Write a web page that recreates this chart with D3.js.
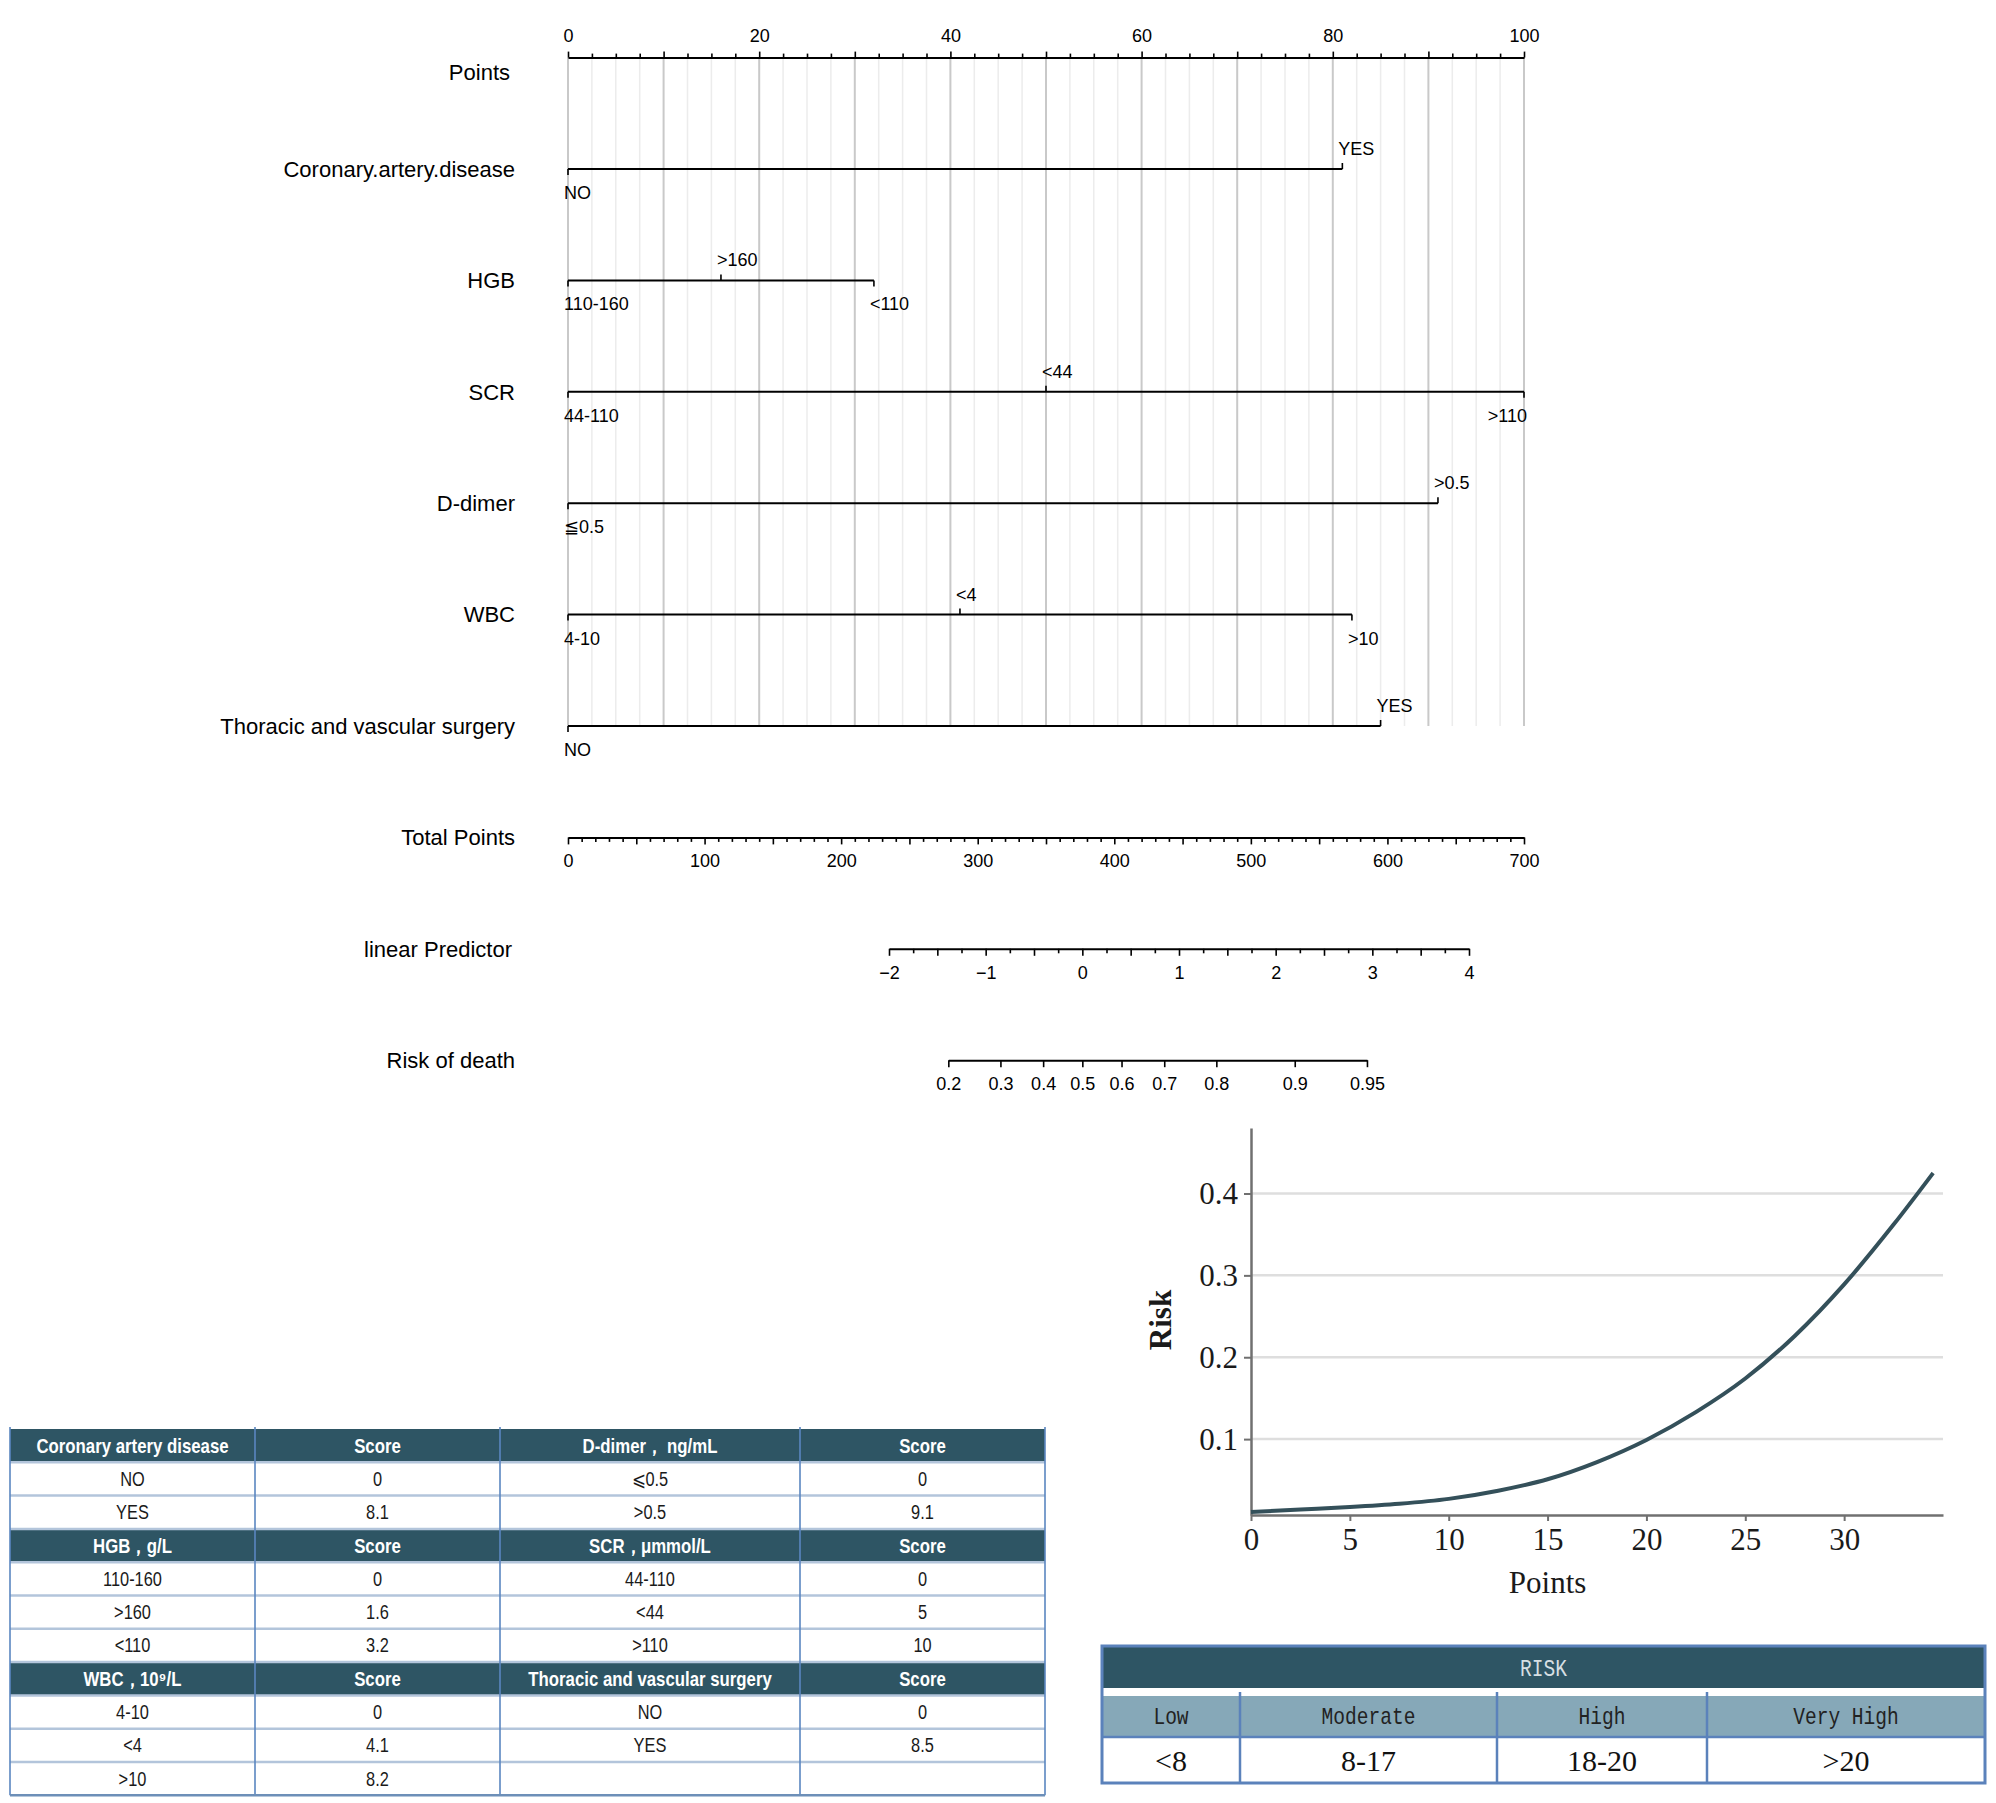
<!DOCTYPE html>
<html>
<head>
<meta charset="utf-8">
<script src="https://cdn.jsdelivr.net/npm/d3@7"></script>
<style>
body{margin:0;background:#fff;}
svg{display:block;background:#fff;}
.nomo text{font-family:"Liberation Sans",Arial,sans-serif;fill:#000;}
.tbl text{font-family:"Liberation Sans Narrow","Arial Narrow","Liberation Sans",sans-serif;}
.curve text{font-family:"Liberation Serif","Times New Roman",serif;fill:#1a1a1a;}
</style>
</head>
<body>
<svg id="fig"></svg>
<script>
// nomogram
var pointTicks=[0,20,40,60,80,100];
var varNames=["Coronary.artery.disease","HGB","SCR","D-dimer","WBC","Thoracic and vascular surgery"];
var levelNames=[["NO","YES"],["110-160",">160","<110"],["44-110","<44",">110"],["≦0.5",">0.5"],["4-10","<4",">10"],["NO","YES"]];
var levelPoints=[[0,81],[0,16,32],[0,50,100],[0,91],[0,41,82],[0,85]];
var totalTicks=[0,100,200,300,400,500,600,700];
var lpTicks=[-2,-1,0,1,2,3,4];
var riskTicks=[0.2,0.3,0.4,0.5,0.6,0.7,0.8,0.9,0.95];

// score table
var tableHeaders=[["Coronary artery disease","Score","D-dimer，  ng/mL","Score"],
                  ["HGB，g/L","Score","SCR，μmmol/L","Score"],
                  ["WBC，10⁹/L","Score","Thoracic and vascular surgery","Score"]];
var tableBody=[[["NO","0","⩽0.5","0"],["YES","8.1",">0.5","9.1"]],
               [["110-160","0","44-110","0"],[">160","1.6","<44","5"],["<110","3.2",">110","10"]],
               [["4-10","0","NO","0"],["<4","4.1","YES","8.5"],[">10","8.2","",""]]];

// risk curve
var curvePoints=[0,2.5,5,7.5,10,12.5,15,17.5,20,22.5,25,27.5,30,32.5,34.5];
var curveRisk=[0.011,0.014,0.017,0.021,0.027,0.037,0.051,0.072,0.099,0.133,0.174,0.226,0.289,0.362,0.425];
var curveXTicks=[0,5,10,15,20,25,30];
var curveYTicks=[0.1,0.2,0.3,0.4];

// risk table
var riskTitle="RISK";
var riskLevels=["Low","Moderate","High","Very High"];
var riskRanges=["<8","8-17","18-20",">20"];

var svg=d3.select("#fig").attr("width",1996).attr("height",1803);

var styleAxis=function(g,size)
{
    g.attr("font-size",size);
    g.selectAll(".domain").attr("stroke","#000").attr("stroke-width",2);
    g.selectAll(".tick line").attr("stroke","#000").attr("stroke-width",1.6);
}

var drawNomogram=function()
{
    var nomo=svg.append("g").attr("class","nomo");
    var xPts=d3.scaleLinear().domain([0,100]).range([568,1524]);
    var xTot=d3.scaleLinear().domain([0,700]).range([568,1524]);
    var xLp=d3.scaleLinear().domain([-2,4]).range([889,1469]);
    var rowY=d3.scaleLinear().domain([0,9]).range([57.6,1060.2]);

    //grid
    nomo.append("g").selectAll("line")
    .data(d3.range(0,100.01,2.5))
    .join("line")
    .attr("x1",xPts).attr("x2",xPts)
    .attr("y1",rowY(0)).attr("y2",rowY(6))
    .attr("stroke",function(d){return d%10===0?"#c9c9c9":"#ececec";})
    .attr("stroke-width",function(d){return d%10===0?2:1.5;});

    //points axis
    var pa=nomo.append("g").attr("transform","translate(0,"+rowY(0)+")");
    pa.call(d3.axisTop(xPts).tickValues(d3.range(0,101,10)).tickSize(6).tickSizeOuter(0).tickPadding(10)
        .tickFormat(function(d){return pointTicks.indexOf(d)>=0?d:"";}));
    pa.append("g").call(d3.axisTop(xPts).tickValues(d3.range(0,101,2.5).filter(function(d){return d%10!==0;}))
        .tickSize(4).tickSizeOuter(0).tickFormat(""))
      .call(function(g){g.select(".domain").remove();});
    styleAxis(pa,18);

    nomo.append("text").text("Points")
    .attr("x",510).attr("y",rowY(0)+15).attr("dy","0.35em")
    .attr("text-anchor","end").attr("font-size",22);

    //variables
    varNames.forEach(function(name,i)
    {
        var y=rowY(i+1);
        var g=nomo.append("g");
        g.append("text").text(name)
        .attr("x",515).attr("y",y).attr("dy","0.35em")
        .attr("text-anchor","end").attr("font-size",22);

        var pts=levelPoints[i];
        g.append("line")
        .attr("x1",xPts(d3.min(pts))).attr("x2",xPts(d3.max(pts)))
        .attr("y1",y).attr("y2",y)
        .attr("stroke","#000").attr("stroke-width",2);

        var order=d3.range(pts.length).sort(function(a,b){return pts[a]-pts[b];});
        order.forEach(function(k,j)
        {
            var x=xPts(pts[k]);
            var above=j%2===1;
            g.append("line")
            .attr("x1",x).attr("x2",x)
            .attr("y1",y).attr("y2",above?y-6:y+6)
            .attr("stroke","#000").attr("stroke-width",1.6);
            var t=g.append("text").text(levelNames[i][k])
            .attr("x",x-4).attr("y",above?y-14:y+30)
            .attr("font-size",18).attr("text-anchor","start");
            if(x-4+t.node().getComputedTextLength()>xPts(100)+4)
            {
                t.attr("text-anchor","end").attr("x",x+3);
            }
        });
    });

    //total points
    var ta=nomo.append("g").attr("transform","translate(0,"+rowY(7)+")");
    ta.call(d3.axisBottom(xTot).tickValues(d3.range(0,701,50)).tickSize(7).tickSizeOuter(0).tickPadding(10)
        .tickFormat(function(d){return totalTicks.indexOf(d)>=0?d:"";}));
    ta.append("g").call(d3.axisBottom(xTot).tickValues(d3.range(0,701,10).filter(function(d){return d%50!==0;}))
        .tickSize(4.5).tickSizeOuter(0).tickFormat(""))
      .call(function(g){g.select(".domain").remove();});
    styleAxis(ta,18);

    //linear predictor
    var la=nomo.append("g").attr("transform","translate(0,"+rowY(8)+")");
    la.call(d3.axisBottom(xLp).tickValues(d3.range(-2,4.01,0.5)).tickSize(7).tickSizeOuter(0).tickPadding(10)
        .tickFormat(function(d){return lpTicks.indexOf(d)>=0?d3.format("d")(d):"";}));
    la.append("g").call(d3.axisBottom(xLp).tickValues(d3.range(-1.75,4,0.5))
        .tickSize(4.5).tickSizeOuter(0).tickFormat(""))
      .call(function(g){g.select(".domain").remove();});
    styleAxis(la,18);

    //risk of death on the logit of the predictor
    var xRisk=d3.scaleLinear().domain(riskTicks)
        .range(riskTicks.map(function(p){return xLp(Math.log(p/(1-p)));}));
    var ra=nomo.append("g").attr("transform","translate(0,"+rowY(9)+")");
    ra.call(d3.axisBottom(xRisk).tickValues(riskTicks).tickSize(7).tickSizeOuter(0).tickPadding(10)
        .tickFormat(function(d){return d;}));
    styleAxis(ra,18);

    ["Total Points","linear Predictor","Risk of death"].forEach(function(lab,k)
    {
        nomo.append("text").text(lab)
        .attr("x",k===1?512:515).attr("y",rowY(7+k)).attr("dy","0.35em")
        .attr("text-anchor","end").attr("font-size",22);
    });
}

var drawScoreTable=function()
{
    var tbl=svg.append("g").attr("class","tbl");
    var cols=[10,255,500,800,1045];
    var top=1429, rowH=33.3;
    var rows=[];
    tableHeaders.forEach(function(h,b)
    {
        rows.push({head:true,cells:h});
        tableBody[b].forEach(function(r){rows.push({head:false,cells:r});});
    });
    var rowY=d3.scaleLinear().domain([0,rows.length]).range([top,top+rowH*rows.length]);

    tbl.selectAll("rect.row").data(rows).join("rect").attr("class","row")
    .attr("x",cols[0]).attr("width",cols[4]-cols[0])
    .attr("y",function(d,i){return rowY(i);}).attr("height",rowH)
    .attr("fill",function(d){return d.head?"#2e5564":"#fff";});

    tbl.selectAll("line.h").data(d3.range(1,rows.length)).join("line").attr("class","h")
    .attr("x1",cols[0]).attr("x2",cols[4])
    .attr("y1",function(d){return rowY(d);}).attr("y2",function(d){return rowY(d);})
    .attr("stroke","#b3c5db").attr("stroke-width",2.5);

    tbl.selectAll("line.v").data(cols).join("line").attr("class","v")
    .attr("x1",function(d){return d;}).attr("x2",function(d){return d;})
    .attr("y1",top-2).attr("y2",rowY(rows.length))
    .attr("stroke","#5a86c0").attr("stroke-width",1.6);

    tbl.append("line")
    .attr("x1",cols[0]).attr("x2",cols[4])
    .attr("y1",rowY(rows.length)).attr("y2",rowY(rows.length))
    .attr("stroke","#6d8fb8").attr("stroke-width",2.5);

    rows.forEach(function(r,i)
    {
        r.cells.forEach(function(c,j)
        {
            tbl.append("g")
            .attr("transform","translate("+((cols[j]+cols[j+1])/2)+","+(rowY(i)+rowH/2)+") scale(0.84,1)")
            .append("text").text(c)
            .attr("dy","0.36em")
            .attr("text-anchor","middle")
            .attr("font-size",r.head?20:19.5)
            .attr("font-weight",r.head?"bold":"normal")
            .attr("fill",r.head?"#fff":"#1a1a1a");
        });
    });
}

var drawCurve=function()
{
    var cg=svg.append("g").attr("class","curve");
    var xR=d3.scaleLinear().domain([0,35]).range([1251,1943]);
    var yR=d3.scaleLinear().domain([0.0073,0.48]).range([1515,1128]);

    cg.append("g").selectAll("line").data(curveYTicks).join("line")
    .attr("x1",xR(0)).attr("x2",xR(35))
    .attr("y1",yR).attr("y2",yR)
    .attr("stroke","#dedede").attr("stroke-width",2.5);

    var xa=cg.append("g").attr("transform","translate(0,"+yR(0.0073)+")")
    .call(d3.axisBottom(xR).tickValues(curveXTicks).tickSize(6).tickSizeOuter(0).tickPadding(7));
    var ya=cg.append("g").attr("transform","translate("+xR(0)+",0)")
    .call(d3.axisLeft(yR).tickValues(curveYTicks).tickSize(7).tickSizeOuter(0).tickPadding(6)
        .tickFormat(function(d){return d;}));
    [xa,ya].forEach(function(a)
    {
        a.attr("font-size",31);
        a.selectAll(".domain").attr("stroke","#707070").attr("stroke-width",2.5);
        a.selectAll(".tick line").attr("stroke","#707070").attr("stroke-width",2);
    });

    var line=d3.line()
    .x(function(d,i){return xR(curvePoints[i]);})
    .y(function(d){return yR(d);})
    .curve(d3.curveMonotoneX);
    cg.append("path").datum(curveRisk)
    .attr("d",line)
    .attr("fill","none").attr("stroke","#34505a").attr("stroke-width",4);

    cg.append("text").text("Points")
    .attr("x",xR(15)).attr("y",1593)
    .attr("text-anchor","middle").attr("font-size",31);

    cg.append("text").text("Risk")
    .attr("transform","translate(1160,1320) rotate(-90)")
    .attr("dy","0.35em")
    .attr("text-anchor","middle").attr("font-size",31).attr("font-weight","bold");
}

var drawRiskTable=function()
{
    var rt=svg.append("g");
    var cols=[1102,1240,1497,1707,1985];
    rt.append("rect").attr("x",cols[0]).attr("y",1646).attr("width",cols[4]-cols[0]).attr("height",42)
    .attr("fill","#2e5564");
    rt.append("rect").attr("x",cols[0]).attr("y",1696).attr("width",cols[4]-cols[0]).attr("height",41)
    .attr("fill","#86a8b8");
    rt.append("g")
    .attr("transform","translate("+((cols[0]+cols[4])/2)+",1668) scale(0.85,1)")
    .append("text").text(riskTitle)
    .attr("dy","0.35em")
    .attr("text-anchor","middle").attr("font-size",23)
    .attr("font-family","'Liberation Mono',monospace").attr("fill","#d6dfe3");

    rt.selectAll("line.v").data(cols.slice(1,4)).join("line").attr("class","v")
    .attr("x1",function(d){return d;}).attr("x2",function(d){return d;})
    .attr("y1",1692).attr("y2",1783)
    .attr("stroke","#5b82bb").attr("stroke-width",2.5);
    rt.append("line").attr("x1",cols[0]).attr("x2",cols[4]).attr("y1",1737).attr("y2",1737)
    .attr("stroke","#5b82bb").attr("stroke-width",2.5);
    rt.append("rect").attr("x",cols[0]).attr("y",1646).attr("width",cols[4]-cols[0]).attr("height",137)
    .attr("fill","none").attr("stroke","#5b82bb").attr("stroke-width",3);

    riskLevels.forEach(function(lv,j)
    {
        rt.append("g")
        .attr("transform","translate("+((cols[j]+cols[j+1])/2)+",1716) scale(0.85,1)")
        .append("text").text(lv)
        .attr("dy","0.35em").attr("text-anchor","middle").attr("font-size",23)
        .attr("font-family","'Liberation Mono',monospace").attr("fill","#222");
        rt.append("text").text(riskRanges[j])
        .attr("x",(cols[j]+cols[j+1])/2).attr("y",1760).attr("dy","0.35em")
        .attr("text-anchor","middle").attr("font-size",30)
        .attr("font-family","'Liberation Serif',serif").attr("fill","#111");
    });
}

drawNomogram();
drawScoreTable();
drawCurve();
drawRiskTable();
</script>
</body>
</html>
